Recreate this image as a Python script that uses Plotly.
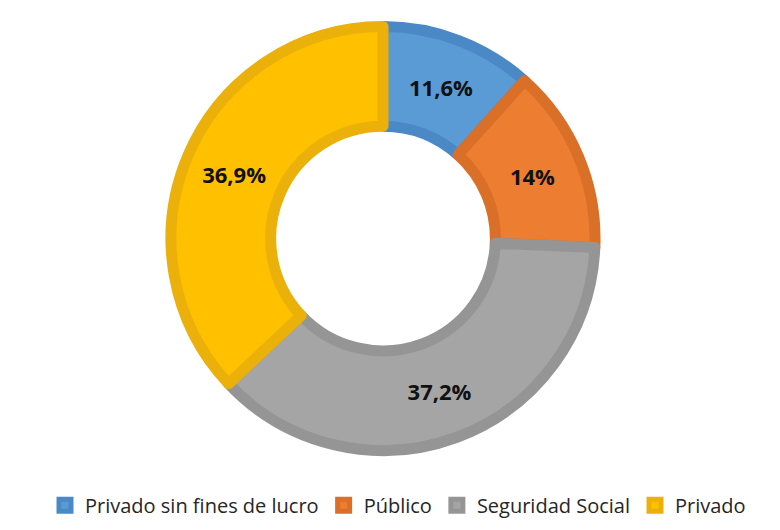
import plotly.graph_objects as go

labels = ["Privado sin fines de lucro", "Público", "Seguridad Social", "Privado"]
values = [11.6, 14, 37.2, 36.9]

fill_colors = ["#5B9BD5", "#ED7D31", "#A5A5A5", "#FFC000"]
edge_colors = ["#4A89C6", "#DA6F28", "#959595", "#EBB00A"]

fig = go.Figure()
fig.add_trace(
    go.Pie(
        labels=labels,
        values=values,
        hole=0.53,
        sort=False,
        direction="clockwise",
        rotation=0,
        marker=dict(colors=fill_colors, line=dict(color=edge_colors, width=11)),
        texttemplate="%{value}%",
        textposition="inside",
        insidetextorientation="horizontal",
        textfont=dict(family="Open Sans, Arial", size=22, color="#111111", weight="bold"),
        hoverinfo="skip",
        domain=dict(x=[0.209, 0.7526], y=[0.165, 0.965]),
    )
)

fig.update_layout(
    width=780,
    height=530,
    separators=",.",
    paper_bgcolor="white",
    plot_bgcolor="white",
    margin=dict(l=0, r=0, t=0, b=0),
    showlegend=True,
    legend=dict(
        orientation="h",
        x=0.5,
        xanchor="center",
        y=0.025,
        yanchor="bottom",
        font=dict(family="Open Sans, Arial", size=20, color="#262626"),
        itemwidth=30,
        traceorder="normal",
    ),
)

fig.write_html("out.html")
